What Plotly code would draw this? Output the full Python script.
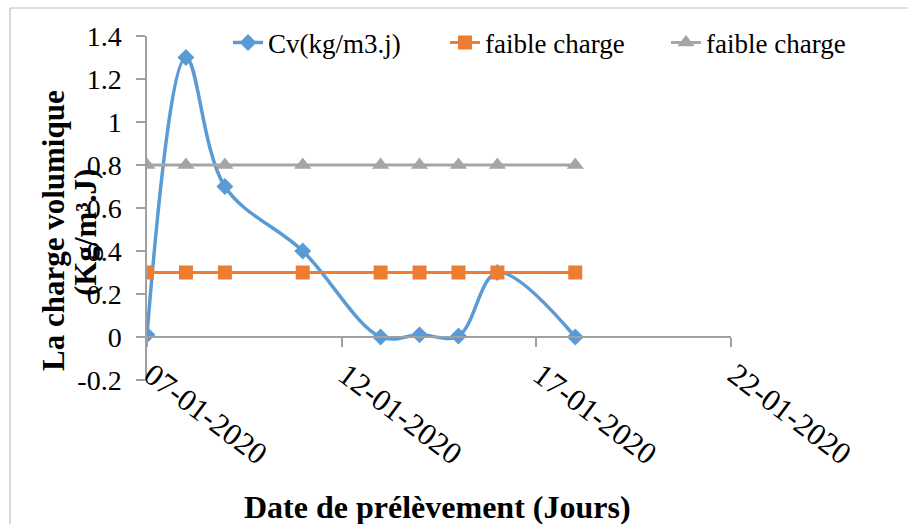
import plotly.graph_objects as go

# Sampling dates and measured volumetric load
dates = ["2020-01-07", "2020-01-08", "2020-01-09", "2020-01-11", "2020-01-13",
         "2020-01-14", "2020-01-15", "2020-01-16", "2020-01-18"]
cv_values = [0.01, 1.30, 0.70, 0.40, 0.00, 0.01, 0.005, 0.30, 0.00]
faible_charge_1 = [0.3] * len(dates)
faible_charge_2 = [0.8] * len(dates)

y_tick_vals = [-0.2, 0, 0.2, 0.4, 0.6, 0.8, 1.0, 1.2, 1.4]
y_tick_text = ["-0.2", "0", "0.2", "0.4", "0.6", "0.8", "1", "1.2", "1.4"]

W, H = 908, 524
L, R, T, B = 147, 177, 36, 144
plot_w = W - L - R
plot_h = H - T - B

FONT = "Liberation Serif"
AXIS_GREY = "#A0A0A0"


def px_x(px):
    """Horizontal pixel position -> paper fraction."""
    return (px - L) / plot_w


def px_y(py):
    """Vertical pixel position (from top) -> paper fraction."""
    return (H - B - py) / plot_h


fig = go.Figure()

fig.add_trace(go.Scatter(
    x=dates, y=cv_values, name="Cv(kg/m3.j)", mode="lines+markers",
    line=dict(color="#5B9BD5", width=3.5, shape="spline", smoothing=1.0),
    marker=dict(symbol="diamond", size=13, color="#5B9BD5"),
    legend="legend",
))
fig.add_trace(go.Scatter(
    x=dates, y=faible_charge_1, name="faible charge", mode="lines+markers",
    line=dict(color="#ED7D31", width=3),
    marker=dict(symbol="square", size=14, color="#ED7D31"),
    legend="legend2",
))
fig.add_trace(go.Scatter(
    x=dates, y=faible_charge_2, name="faible charge", mode="lines+markers",
    line=dict(color="#A5A5A5", width=3),
    marker=dict(symbol="triangle-up", size=15, color="#A5A5A5"),
    legend="legend3",
))

y_min, y_max = -0.2, 1.4
zero_pos = (0 - y_min) / (y_max - y_min)


def legend_box(left_px):
    return dict(
        orientation="h", x=px_x(left_px), y=px_y(43),
        xanchor="left", yanchor="middle",
        font=dict(family=FONT, size=27, color="black"),
        bgcolor="rgba(0,0,0,0)",
    )


fig.update_layout(
    width=W, height=H,
    margin=dict(l=L, r=R, t=T, b=B, autoexpand=False),
    paper_bgcolor="white", plot_bgcolor="white",
    font=dict(family=FONT, size=27, color="black"),
    showlegend=True,
    legend=legend_box(228),
    legend2=legend_box(445),
    legend3=legend_box(666),
    xaxis=dict(
        type="date",
        range=["2020-01-07", "2020-01-22"],
        tick0="2020-01-07", dtick=5 * 86400000,
        tickformat="%d-%m-%Y", tickangle=37,
        anchor="free", position=zero_pos,
        showline=True, linecolor=AXIS_GREY, linewidth=1.5,
        ticks="outside", ticklen=9, tickcolor=AXIS_GREY, tickwidth=1.5,
        showgrid=False, zeroline=False, automargin=False,
        tickfont=dict(family=FONT, size=31, color="black"),
        ticklabelshift=4, ticklabelstandoff=-2,
    ),
    yaxis=dict(
        range=[y_min, y_max],
        tickvals=y_tick_vals, ticktext=y_tick_text,
        showline=True, linecolor=AXIS_GREY, linewidth=1.5,
        ticks="outside", ticklen=9, tickcolor=AXIS_GREY, tickwidth=1.5,
        showgrid=False, zeroline=False, automargin=False,
        tickfont=dict(family=FONT, size=28, color="black"),
        ticklabelstandoff=9,
    ),
)

# Outer chart frame
fig.add_shape(type="rect", xref="paper", yref="paper",
              x0=px_x(10), x1=px_x(1000), y0=px_y(600), y1=px_y(8),
              line=dict(color="#BFBFBF", width=1.2), layer="below")

# Axis titles
fig.add_annotation(
    text="<b>Date de prélèvement (Jours)</b>",
    xref="paper", yref="paper", x=px_x(437), y=px_y(507),
    showarrow=False, font=dict(family=FONT, size=32, color="black"),
    xanchor="center", yanchor="middle",
)
fig.add_annotation(
    text="<b>La charge volumique</b>",
    xref="paper", yref="paper", x=px_x(53), y=px_y(231),
    showarrow=False, textangle=-90,
    font=dict(family=FONT, size=31, color="black"),
    xanchor="center", yanchor="middle",
)
fig.add_annotation(
    text="<b>(Kg/m³.J)</b>",
    xref="paper", yref="paper", x=px_x(85), y=px_y(233),
    showarrow=False, textangle=-90,
    font=dict(family=FONT, size=31, color="black"),
    xanchor="center", yanchor="middle",
)

fig.write_html("out.html")
